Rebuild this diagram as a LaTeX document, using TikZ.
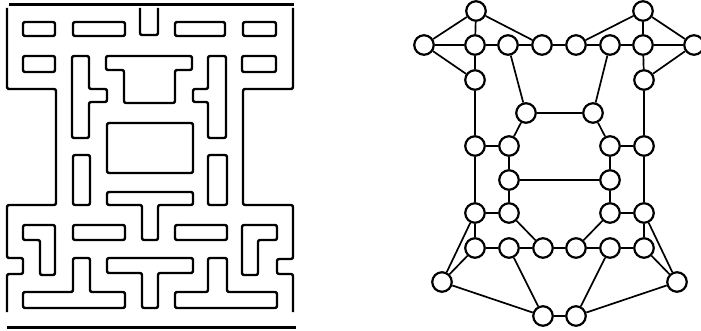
\documentclass[tikz,border=0pt]{standalone}
\begin{document}
\begin{tikzpicture}[x=1pt,y=-1pt,
  wall/.style={line width=2.4pt,rounded corners=2pt,line join=round},
  bar/.style={line width=3pt},
  vtx/.style={circle,draw,line width=2.2pt,minimum size=19.5pt,inner sep=0pt,fill=white},
  edge/.style={line width=1.7pt}]
\useasboundingbox (0,0) rectangle (701,331);
% ---------- maze ----------
\draw[bar] (9,5) -- (294,5);
\draw[bar] (7,327) -- (296,327);
\draw[wall] (7,8) -- (7,89) -- (56,89) -- (56,205) -- (7,205) -- (7,258) -- (23,258) -- (23,274) -- (7,274) -- (7,312);
\draw[wall] (293,8) -- (293,89) -- (243,89) -- (243,205) -- (293,205) -- (293,259) -- (277,259) -- (277,274) -- (293,274) -- (293,312);
\draw[wall] (140,8) -- (140,35) -- (158,35) -- (158,8);
% row 1
\draw[wall] (23,22) rectangle (55,36);
\draw[wall] (73,22) rectangle (125,36);
\draw[wall] (175,22) rectangle (225,36);
\draw[wall] (243,22) rectangle (276,36);
% row 2
\draw[wall] (23,56) rectangle (55,72);
\draw[wall] (242,56) rectangle (276,72);
\draw[wall] (72,56) -- (89,56) -- (89,89) -- (107,89) -- (107,102) -- (89,102) -- (89,138) -- (72,138) -- cycle;
\draw[wall] (106,56) -- (192,56) -- (192,70) -- (175,70) -- (175,103) -- (124,103) -- (124,70) -- (106,70) -- cycle;
\draw[wall] (208,56) -- (226,56) -- (226,138) -- (208,138) -- (208,102) -- (193,102) -- (193,89) -- (208,89) -- cycle;
% centre
\draw[wall] (107,123) rectangle (193,173);
\draw[wall] (73,155) rectangle (90,205);
\draw[wall] (208,155) rectangle (227,205);
\draw[wall] (107,192) -- (193,192) -- (193,205) -- (158,205) -- (158,240) -- (142,240) -- (142,205) -- (107,205) -- cycle;
% row y 225
\draw[wall] (23,225) -- (55,225) -- (55,275) -- (40,275) -- (40,240) -- (23,240) -- cycle;
\draw[wall] (73,225) rectangle (125,240);
\draw[wall] (175,225) rectangle (227,240);
\draw[wall] (242,225) -- (277,225) -- (277,240) -- (258,240) -- (258,275) -- (242,275) -- cycle;
% bottom row
\draw[wall] (73,258) -- (90,258) -- (90,292) -- (125,292) -- (125,308) -- (23,308) -- (23,292) -- (73,292) -- cycle;
\draw[wall] (107,258) -- (193,258) -- (193,273) -- (158,273) -- (158,308) -- (142,308) -- (142,273) -- (107,273) -- cycle;
\draw[wall] (208,258) -- (227,258) -- (227,292) -- (277,292) -- (277,308) -- (175,308) -- (175,292) -- (208,292) -- cycle;
% ---------- graph ----------
\node[vtx] (t1) at (476,11) {};
\node[vtx] (t2) at (643,11) {};
\node[vtx] (r1) at (424,45) {};
\node[vtx] (r2) at (475,45) {};
\node[vtx] (r3) at (508,45) {};
\node[vtx] (r4) at (542,45) {};
\node[vtx] (r5) at (576,45) {};
\node[vtx] (r6) at (610,45) {};
\node[vtx] (r7) at (643,45) {};
\node[vtx] (r8) at (694,45) {};
\node[vtx] (a1) at (475,80) {};
\node[vtx] (a2) at (644,80) {};
\node[vtx] (b1) at (526,113) {};
\node[vtx] (b2) at (593,113) {};
\node[vtx] (c1) at (475,146) {};
\node[vtx] (c2) at (509,146) {};
\node[vtx] (c3) at (610,146) {};
\node[vtx] (c4) at (644,146) {};
\node[vtx] (d1) at (509,180) {};
\node[vtx] (d2) at (610,180) {};
\node[vtx] (e1) at (475,213) {};
\node[vtx] (e2) at (509,213) {};
\node[vtx] (e3) at (610,213) {};
\node[vtx] (e4) at (644,213) {};
\node[vtx] (f1) at (475,248) {};
\node[vtx] (f2) at (509,248) {};
\node[vtx] (f3) at (543,248) {};
\node[vtx] (f4) at (576,248) {};
\node[vtx] (f5) at (610,248) {};
\node[vtx] (f6) at (644,248) {};
\node[vtx] (g1) at (442,282) {};
\node[vtx] (g2) at (677,282) {};
\node[vtx] (h1) at (543,316) {};
\node[vtx] (h2) at (576,316) {};
\foreach \u/\v in {t1/r1,t1/r2,t1/r4,t2/r8,t2/r7,t2/r5,
  r1/r2,r2/r3,r3/r4,r4/r5,r5/r6,r6/r7,r7/r8,
  r1/a1,r2/a1,r8/a2,r7/a2,r3/b1,r6/b2,b1/b2,
  a1/c1,a2/c4,b1/c2,b2/c3,c1/c2,c3/c4,c2/d1,c3/d2,d1/d2,
  c1/e1,c4/e4,d1/e2,d2/e3,e1/e2,e3/e4,e1/f1,e4/f6,e1/g1,e4/g2,
  e2/f3,e3/f4,f1/f2,f2/f3,f3/f4,f4/f5,f5/f6,f1/g1,f6/g2,
  g1/h1,g2/h2,f2/h1,f5/h2,h1/h2}
  \draw[edge] (\u) -- (\v);
\end{tikzpicture}
\end{document}
